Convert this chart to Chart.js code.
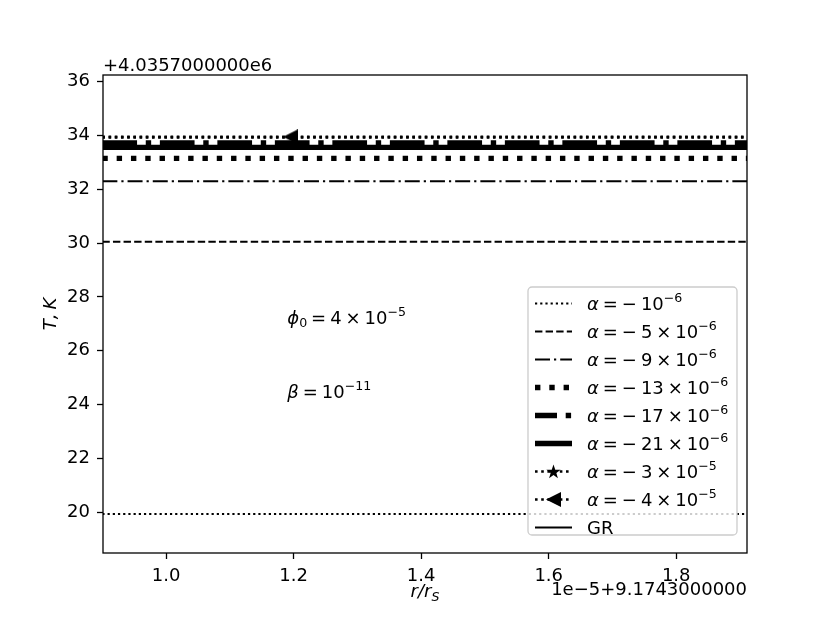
<!DOCTYPE html>
<html>
<head>
<meta charset="utf-8">
<script src="https://cdn.jsdelivr.net/npm/chart.js@4.4.1/dist/chart.umd.min.js"></script>
<style>
html,body{margin:0;padding:0;background:#ffffff;}
canvas{display:block;}
</style>
</head>
<body>
<canvas id="chart" width="830" height="623"></canvas>
<script>
// ---------------- data ----------------
// r/r_S shown as (value * 1e-5 + 9.1743); T shown as offset from 4.0357e6 K
const rValues   = [0.90, 1.195, 1.92];
const T_a1      = [19.93, 19.93, 19.93];   // alpha = -1e-6
const T_a5      = [30.05, 30.05, 30.05];   // alpha = -5e-6
const T_a9      = [32.30, 32.30, 32.30];   // alpha = -9e-6
const T_a13     = [33.15, 33.15, 33.15];   // alpha = -13e-6
const T_a17     = [33.72, 33.72, 33.72];   // alpha = -17e-6
const T_a21     = [33.56, 33.56, 33.56];   // alpha = -21e-6
const T_a30     = [33.93, 33.93, 33.93];   // alpha = -3e-5
const T_a40     = [33.95, 33.95, 33.95];   // alpha = -4e-5
const T_GR      = [33.56, 33.56, 33.56];   // GR

const xTicks = [1.0, 1.2, 1.4, 1.6, 1.8];
const yTicks = [20, 22, 24, 26, 28, 30, 32, 34, 36];
const xRange = [0.901, 1.911];
const yRange = [18.48, 36.25];

const xOffsetText = '1e\u22125+9.1743000000';
const yOffsetText = '+4.0357000000e6';

const G = ['', 'gap'];
const legendLabels = [
  [['α','i'],G,['=',''],G,['\u2212',''],G,['10',''],['\u22126','sup']],
  [['α','i'],G,['=',''],G,['\u2212',''],G,['5',''],G,['×',''],G,['10',''],['\u22126','sup']],
  [['α','i'],G,['=',''],G,['\u2212',''],G,['9',''],G,['×',''],G,['10',''],['\u22126','sup']],
  [['α','i'],G,['=',''],G,['\u2212',''],G,['13',''],G,['×',''],G,['10',''],['\u22126','sup']],
  [['α','i'],G,['=',''],G,['\u2212',''],G,['17',''],G,['×',''],G,['10',''],['\u22126','sup']],
  [['α','i'],G,['=',''],G,['\u2212',''],G,['21',''],G,['×',''],G,['10',''],['\u22126','sup']],
  [['α','i'],G,['=',''],G,['\u2212',''],G,['3',''],G,['×',''],G,['10',''],['\u22125','sup']],
  [['α','i'],G,['=',''],G,['\u2212',''],G,['4',''],G,['×',''],G,['10',''],['\u22125','sup']],
  [['GR','']]
];
const plainNames = ['α = −10⁻⁶','α = −5×10⁻⁶','α = −9×10⁻⁶','α = −13×10⁻⁶','α = −17×10⁻⁶','α = −21×10⁻⁶','α = −3×10⁻⁵','α = −4×10⁻⁵','GR'];
const seriesValues = [T_a1, T_a5, T_a9, T_a13, T_a17, T_a21, T_a30, T_a40, T_GR];

const annotations = [
  {x: 1.19, y: 27.0,  segs: [['\u03D5','i'],['0','sub'],G,['=',''],G,['4',''],G,['×',''],G,['10',''],['\u22125','sup']]},
  {x: 1.19, y: 24.25, segs: [['β','i'],G,['=',''],G,['10',''],['\u221211','sup']]}
];
const xLabelSegs = [['r','i'],['/','i'],['r','i'],['S','isub']];
const yLabelSegs = [['T','i'],[',','i'],G,['K','i']];

// ---------------- markers ----------------
function makeTriangle(s){
  const c=document.createElement('canvas'); c.width=s; c.height=s;
  const g=c.getContext('2d'); g.fillStyle='#000';
  g.beginPath(); g.moveTo(0,s/2); g.lineTo(s,0); g.lineTo(s,s); g.closePath(); g.fill();
  return c;
}
function makeStar(s){
  const c=document.createElement('canvas'); c.width=s; c.height=s;
  const g=c.getContext('2d'); g.fillStyle='#000';
  const R=s/2, r=R*0.4, cx=s/2, cy=s/2+0.6;
  g.beginPath();
  for(let i=0;i<10;i++){
    const a=-Math.PI/2+i*Math.PI/5, rr=(i%2===0)?R:r;
    const px=cx+rr*Math.cos(a), py=cy+rr*Math.sin(a);
    if(i===0) g.moveTo(px,py); else g.lineTo(px,py);
  }
  g.closePath(); g.fill();
  return c;
}
const triImg = makeTriangle(15);
const starImg = makeStar(15);

// ---------------- styles ----------------
const seriesStyles = [
  {w: 2.2, dash: [2.2, 3.0]},
  {w: 2.0, dash: [7.4, 3.2]},
  {w: 2.2, dash: [15.0, 4.0, 2.2, 4.0]},
  {w: 5.4, dash: [5.4, 8.9]},
  {w: 5.4, dash: [34.7, 8.7, 5.4, 8.7], legendOffset: 12.7},
  {w: 5.4, dash: []},
  {w: 2.6, dash: [2.6, 3.6], marker: starImg, markerIdx: -1},
  {w: 2.6, dash: [2.6, 3.6], marker: triImg, markerIdx: 1},
  {w: 2.0, dash: []}
];

// ---------------- text helpers ----------------
const FAM = '"DejaVu Sans"';
function fontFor(st, size){
  const it = st.indexOf('i')===0 ? 'italic ' : '';
  const small = (st.indexOf('sup')>=0 || st.indexOf('sub')>=0);
  return it + (small ? size*0.7 : size).toFixed(2) + 'px ' + FAM;
}
function richWidth(ctx, segs, size){
  let w=0;
  for(const [t,s] of segs){
    if(s==='gap'){ w+=size*0.22; continue; }
    ctx.font=fontFor(s,size); w+=ctx.measureText(t).width;
  }
  return w;
}
function drawRich(ctx, segs, x, y, size, align){
  ctx.save();
  ctx.textBaseline='alphabetic'; ctx.textAlign='left'; ctx.fillStyle='#000';
  const w=richWidth(ctx,segs,size);
  if(align==='center') x-=w/2; else if(align==='right') x-=w;
  for(const [t,s] of segs){
    if(s==='gap'){ x+=size*0.22; continue; }
    ctx.font=fontFor(s,size);
    let dy=0;
    if(s.indexOf('sup')>=0) dy=-size*0.42;
    else if(s.indexOf('sub')>=0) dy=size*0.2;
    ctx.fillText(t,x,y+dy);
    x+=ctx.measureText(t).width;
  }
  ctx.restore();
}

// ---------------- datasets ----------------
const datasets = seriesValues.map((vals,i)=>{
  const st=seriesStyles[i];
  const radii = vals.map((_,k)=> (st.marker && k===st.markerIdx) ? 7 : 0);
  return {
    label: plainNames[i],
    data: rValues.map((x,k)=>({x:x, y:vals[k]})),
    borderColor:'#000', backgroundColor:'#000',
    borderWidth: st.w, borderDash: st.dash, borderCapStyle:'butt', borderJoinStyle:'miter',
    pointRadius: radii, pointHoverRadius: 0,
    pointStyle: st.marker ? st.marker : 'circle',
    pointBorderWidth: 0,
    fill:false, tension:0, clip:0, order:-i
  };
});

// ---------------- plugins ----------------
const bgPlugin = {
  id:'bg',
  beforeDraw(chart){ const c=chart.ctx; c.save(); c.fillStyle='#fff'; c.fillRect(0,0,chart.width,chart.height); c.restore(); }
};
const decoPlugin = {
  id:'deco',
  afterDatasetsDraw(chart){
    const ctx=chart.ctx, a=chart.chartArea, xs=chart.scales.x, ys=chart.scales.y;
    for(const an of annotations){
      drawRich(ctx, an.segs, xs.getPixelForValue(an.x), ys.getPixelForValue(an.y), 18, 'left');
    }
    ctx.save(); ctx.strokeStyle='#000'; ctx.lineWidth=1.3;
    ctx.strokeRect(a.left, a.top, a.right-a.left, a.bottom-a.top); ctx.restore();
    ctx.save(); ctx.fillStyle='#000'; ctx.font='18px '+FAM; ctx.textBaseline='alphabetic';
    ctx.textAlign='left'; ctx.fillText(yOffsetText, a.left, a.top-4.5);
    ctx.textAlign='right'; ctx.fillText(xOffsetText, a.right, a.bottom+41.5);
    ctx.restore();
    drawRich(ctx, xLabelSegs, (a.left+a.right)/2, a.bottom+44, 18, 'center');
    ctx.save(); ctx.translate(56, (a.top+a.bottom)/2); ctx.rotate(-Math.PI/2);
    drawRich(ctx, yLabelSegs, 0, 0, 18, 'center'); ctx.restore();
    const L={x:528, y:287, w:209, h:248, r:4};
    ctx.save();
    ctx.beginPath();
    ctx.moveTo(L.x+L.r, L.y); ctx.lineTo(L.x+L.w-L.r, L.y); ctx.arcTo(L.x+L.w, L.y, L.x+L.w, L.y+L.r, L.r);
    ctx.lineTo(L.x+L.w, L.y+L.h-L.r); ctx.arcTo(L.x+L.w, L.y+L.h, L.x+L.w-L.r, L.y+L.h, L.r);
    ctx.lineTo(L.x+L.r, L.y+L.h); ctx.arcTo(L.x, L.y+L.h, L.x, L.y+L.h-L.r, L.r);
    ctx.lineTo(L.x, L.y+L.r); ctx.arcTo(L.x, L.y, L.x+L.r, L.y, L.r); ctx.closePath();
    ctx.fillStyle='rgba(255,255,255,0.8)'; ctx.fill();
    ctx.strokeStyle='#cccccc'; ctx.lineWidth=1.3; ctx.stroke();
    ctx.restore();
    const ds=chart.data.datasets;
    for(let i=0;i<ds.length;i++){
      const cy=303.5+i*28;
      ctx.save();
      ctx.strokeStyle='#000'; ctx.lineWidth=ds[i].borderWidth; ctx.lineCap='butt';
      ctx.setLineDash(ds[i].borderDash);
      ctx.lineDashOffset = seriesStyles[i].legendOffset || 0;
      ctx.beginPath(); ctx.moveTo(535,cy); ctx.lineTo(572,cy); ctx.stroke();
      ctx.restore();
      const m=seriesStyles[i].marker;
      if(m){ ctx.drawImage(m, 553.5-m.width/2, cy-m.height/2); }
      drawRich(ctx, legendLabels[i], 587, cy+6.5, 18, 'left');
    }
  }
};

// ---------------- chart ----------------
const tickFont = {family:'DejaVu Sans', size:18};
new Chart(document.getElementById('chart'), {
  type:'line',
  data:{ datasets: datasets },
  options:{
    responsive:false, animation:false, devicePixelRatio:1,
    layout:{ padding:{left:43, right:83, top:75, bottom:25} },
    plugins:{ legend:{display:false}, tooltip:{enabled:false}, title:{display:false} },
    events:[],
    scales:{
      x:{
        type:'linear', min:xRange[0], max:xRange[1],
        afterBuildTicks:(s)=>{ s.ticks = xTicks.map(v=>({value:v})); },
        afterFit:(s)=>{ s.height=45; },
        ticks:{ callback:(v)=>Number(v).toFixed(1), font:tickFont, color:'#000', padding:7, maxRotation:0, autoSkip:false },
        grid:{ drawOnChartArea:false, drawTicks:true, tickLength:6, tickWidth:1.3, tickColor:'#000', color:'#000' },
        border:{ display:false }
      },
      y:{
        type:'linear', min:yRange[0], max:yRange[1],
        afterBuildTicks:(s)=>{ s.ticks = yTicks.map(v=>({value:v})); },
        afterFit:(s)=>{ s.width=60; },
        ticks:{ callback:(v)=>String(v), font:tickFont, color:'#000', padding:7, autoSkip:false },
        grid:{ drawOnChartArea:false, drawTicks:true, tickLength:6, tickWidth:1.3, tickColor:'#000', color:'#000' },
        border:{ display:false }
      }
    }
  },
  plugins:[bgPlugin, decoPlugin]
});
</script>
</body>
</html>
